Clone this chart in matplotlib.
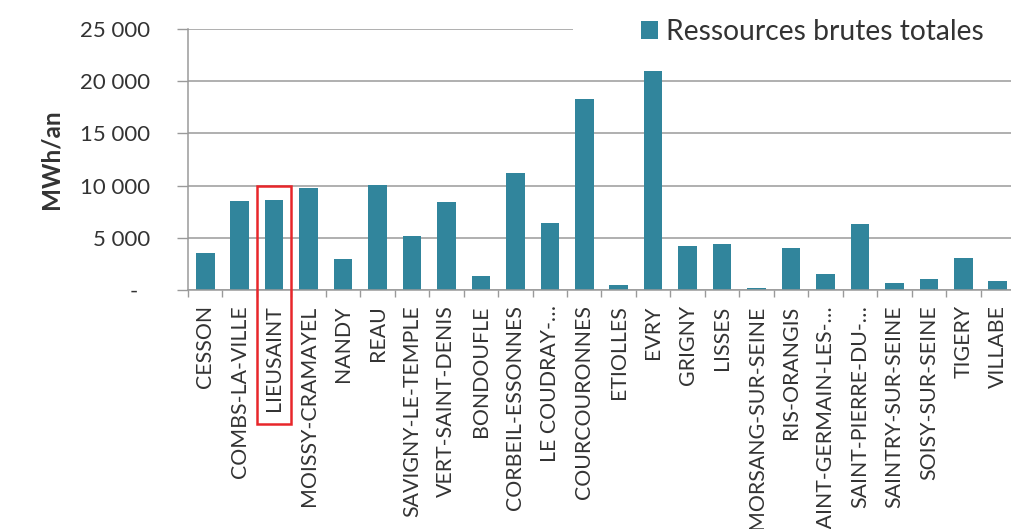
import matplotlib
matplotlib.use("Agg")
import matplotlib.pyplot as plt
from matplotlib.patches import Rectangle
from matplotlib.transforms import blended_transform_factory
from matplotlib.ticker import FixedLocator

communes = ["CESSON", "COMBS-LA-VILLE", "LIEUSAINT", "MOISSY-CRAMAYEL", "NANDY", "REAU",
            "SAVIGNY-LE-TEMPLE", "VERT-SAINT-DENIS", "BONDOUFLE", "CORBEIL-ESSONNES",
            "LE COUDRAY-…", "COURCOURONNES", "ETIOLLES", "EVRY", "GRIGNY", "LISSES",
            "MORSANG-SUR-SEINE", "RIS-ORANGIS", "SAINT-GERMAIN-LES-…", "SAINT-PIERRE-DU-…",
            "SAINTRY-SUR-SEINE", "SOISY-SUR-SEINE", "TIGERY", "VILLABE"]
ressources = [3500, 8500, 8650, 9800, 2950, 10050, 5150, 8400, 1350, 11250,
              6450, 18250, 500, 21000, 4250, 4400,
              220, 4000, 1530, 6300,
              650, 1100, 3100, 900]
yticks = [0, 5000, 10000, 15000, 20000, 25000]
ytick_labels = ["-  ", "5 000", "10 000", "15 000", "20 000", "25 000"]
series_name = "Ressources brutes totales"
ylabel = "MWh/an"
highlight = "LIEUSAINT"

plt.rcParams['font.family'] = ['Lato', 'DejaVu Sans']
bar_color = "#31859C"
grid_color = "#9a9a9a"
text_color = "#333333"

fig = plt.figure(figsize=(10.12, 5.29), dpi=100)
ax = fig.add_axes([188/1012, 239/529, 827/1012, 261/529])

x = list(range(len(communes)))
ax.bar(x, ressources, width=0.54, color=bar_color, zorder=2, label=series_name)

ax.set_xlim(-0.5, len(communes) - 0.5)
ax.set_ylim(0, 25000)
ax.set_yticks(yticks)
ax.set_yticklabels(ytick_labels)
ax.set_xticks(x)
ax.set_xticklabels(communes, rotation=90, va="top", ha="center")
ax.xaxis.set_minor_locator(FixedLocator([i - 0.5 for i in range(len(communes) + 1)]))

ax.tick_params(axis="x", which="major", length=0, pad=11, labelsize=15.3, labelcolor=text_color)
ax.tick_params(axis="x", which="minor", length=5, color=grid_color, width=1)
ax.tick_params(axis="y", length=8, color=grid_color, width=1, pad=19.5, labelsize=16, labelcolor=text_color)

ax.set_axisbelow(True)
ax.yaxis.grid(True, color=grid_color, linewidth=1.1)
for s in ["top", "right"]:
    ax.spines[s].set_visible(False)
for s in ["left", "bottom"]:
    ax.spines[s].set_color(grid_color)
    ax.spines[s].set_linewidth(1.1)

ax.set_ylabel(ylabel, fontsize=17.5, fontweight="bold", color=text_color)
ax.yaxis.set_label_coords(-0.152, 0.5)

# white area behind the legend hiding the top gridline
ax.add_patch(Rectangle((0.466, 0.95), 0.6, 0.1, transform=ax.transAxes,
                       facecolor="white", edgecolor="none", zorder=1.5, clip_on=False))

leg = fig.legend(loc="center left", bbox_to_anchor=(641/1012, 1 - 32/529),
                 frameon=False, fontsize=20.3, handlelength=0.6, handleheight=0.6,
                 handletextpad=0.3, borderpad=0, borderaxespad=0)
for t in leg.get_texts():
    t.set_color(text_color)

# red frame around the highlighted commune label
i = communes.index(highlight)
tr = blended_transform_factory(ax.transData, ax.transAxes)
ax.add_patch(Rectangle((i - 0.5, -0.513), 1.0, 0.4 + 0.513, transform=tr,
                       fill=False, edgecolor="#e8262a", linewidth=1.8, zorder=5, clip_on=False))

fig.savefig("out.png", dpi=100, facecolor="white")
